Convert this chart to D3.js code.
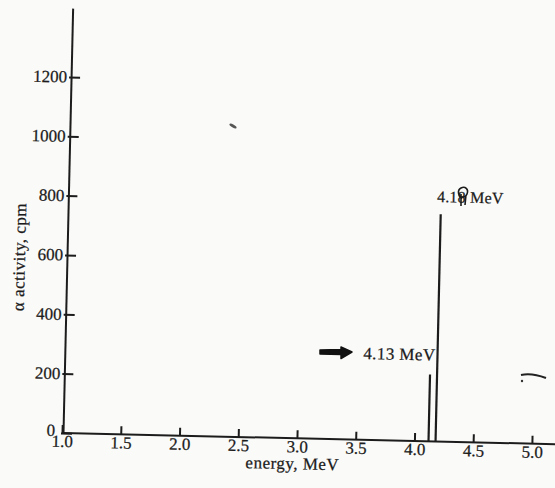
<!DOCTYPE html>
<html>
<head>
<meta charset="utf-8">
<script src="https://cdn.jsdelivr.net/npm/d3@7"></script>
<style>
body { margin: 0; background: #fafaf8; }
svg { display: block; }
text { font-family: "Liberation Serif", "DejaVu Serif", serif; fill: #1c1c1c; stroke: #1c1c1c; stroke-width: 0.25px; }
</style>
</head>
<body>
<svg id="chart"></svg>
<script>
// peaks of the alpha spectrum
var energies = [4.12, 4.18];
var activity = [225, 766];
var peakLabels = ["4.13 MeV", "4.18 MeV"];

var xTicks = [1.0, 1.5, 2.0, 2.5, 3.0, 3.5, 4.0, 4.5, 5.0];
var yTicks = [0, 200, 400, 600, 800, 1000, 1200];

var svgWidth = 555, svgHeight = 488;
var originX = 63, originY = 433;

var svg = d3.select("#chart")
    .attr("width", svgWidth)
    .attr("height", svgHeight);

// the scanned page is tilted a little, so the whole plot is too
var g = svg.append("g")
    .attr("transform", "rotate(1.3," + originX + "," + originY + ")");

var xScale = d3.scaleLinear()
    .domain([1.0, 5.2])
    .range([62, 62 + 4.2 * 117.5]);

var yScale = d3.scaleLinear()
    .domain([0, 1432])
    .range([originY, 8]);

var xAxis = d3.axisBottom(xScale)
    .tickValues(xTicks)
    .tickFormat(d3.format(".1f"))
    .tickSizeInner(-8)
    .tickSizeOuter(0)
    .tickPadding(2);

var yAxis = d3.axisLeft(yScale)
    .tickValues(yTicks)
    .tickFormat(d3.format("d"))
    .tickSizeInner(-9)
    .tickSizeOuter(0)
    .tickPadding(4);

var gx = g.append("g")
    .attr("transform", "translate(0," + originY + ")")
    .call(xAxis);
gx.select(".domain").attr("d", "M" + originX + ",0H" + (svgWidth + 20));

var gy = g.append("g")
    .attr("transform", "translate(" + originX + ",0)")
    .call(yAxis);
gy.selectAll(".tick line").attr("x1", -2);

g.selectAll(".domain, .tick line")
    .attr("stroke", "#1c1c1c")
    .attr("stroke-width", 2);
g.selectAll(".tick text")
    .style("font-size", "17px")
    .attr("fill", "#1c1c1c");
gy.selectAll(".tick text").attr("dy", "0.3em");
// the zero sits a bit off the corner
gy.selectAll(".tick text")
    .filter(function(d) { return d === 0; })
    .attr("x", -8)
    .attr("dy", "0.15em");

// peaks
g.selectAll("line.peak")
    .data(energies)
    .enter()
    .append("line")
    .attr("class", "peak")
    .attr("x1", function(d) { return xScale(d); })
    .attr("x2", function(d) { return xScale(d); })
    .attr("y1", yScale(0))
    .attr("y2", function(d, i) { return yScale(activity[i]); })
    .attr("stroke", "#1c1c1c")
    .attr("stroke-width", 2.2);

// peak labels
g.append("text")
    .attr("x", xScale(energies[0]) + 5)
    .attr("y", yScale(activity[0]) - 14)
    .attr("text-anchor", "end")
    .style("font-size", "17px")
    .style("letter-spacing", "0.4px")
    .text(peakLabels[0]);

g.append("text")
    .attr("x", xScale(energies[1]) - 4)
    .attr("y", yScale(activity[1]) - 12)
    .style("font-size", "16px")
    .style("letter-spacing", "0.2px")
    .text(peakLabels[1]);

// axis titles
g.append("text")
    .attr("x", 293)
    .attr("y", 464)
    .attr("text-anchor", "middle")
    .style("font-size", "17px")
    .style("letter-spacing", "0.5px")
    .text("energy, MeV");

g.append("text")
    .attr("transform", "translate(21,258) rotate(-90)")
    .attr("text-anchor", "middle")
    .style("font-size", "17px")
    .style("letter-spacing", "0.5px")
    .text("α activity, cpm");

// hand marks on the scan
svg.append("path")
    .attr("d", "M320,350 L341,349.5 L341,347 L352,352 L341,358.5 L341,354.5 L320,354 Z")
    .attr("fill", "#111")
    .attr("stroke", "#111")
    .attr("stroke-width", 1.5)
    .attr("stroke-linejoin", "round");
svg.append("path")
    .attr("d", "M462,199 C458,196 457,190 461,188 C465,186 469,189 467,194 C466,197 463,198 460,196 M461,194 L461,206 M466,195 L465,205")
    .attr("fill", "none")
    .attr("stroke", "#1c1c1c")
    .attr("stroke-width", 1.6);
svg.append("path")
    .attr("d", "M521,375 C530,373 538,375 546,378")
    .attr("fill", "none")
    .attr("stroke", "#222")
    .attr("stroke-width", 2.2);
svg.append("circle")
    .attr("cx", 522).attr("cy", 381).attr("r", 1.2)
    .attr("fill", "#333");
svg.append("ellipse")
    .attr("cx", 233).attr("cy", 126)
    .attr("rx", 4).attr("ry", 1.5)
    .attr("transform", "rotate(30,233,126)")
    .attr("fill", "#555");
</script>
</body>
</html>
